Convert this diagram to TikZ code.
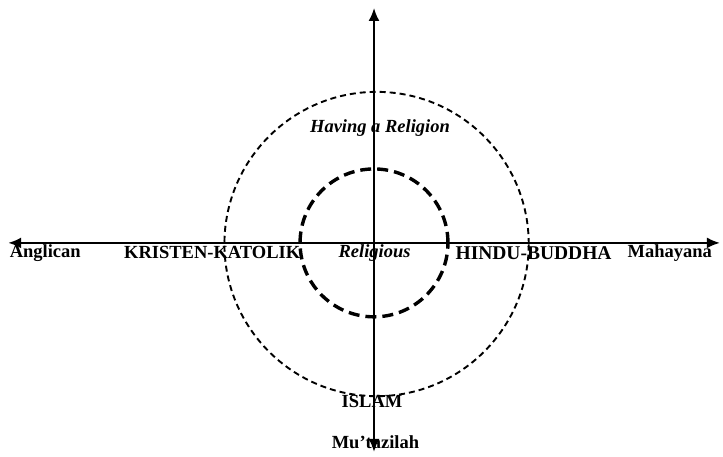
\documentclass[tikz,border=0pt]{standalone}
\usepackage{fontspec}
\setmainfont{Liberation Serif}
\usetikzlibrary{arrows, arrows.meta, positioning, calc}

\begin{document}
\begin{tikzpicture}[
    axis/.style={line width=2pt, -{Latex[length=13pt, width=11pt]}},
    label/.style={font=\fontsize{18.5}{20}\selectfont\bfseries, inner sep=0pt},
    ilabel/.style={font=\fontsize{18.5}{20}\selectfont\bfseries\itshape, inner sep=0pt}
  ]
    \useasboundingbox (-13.15,-7.52) rectangle (12.27,8.54);

    % Axes
    \coordinate (west) at (-12.86,0);
    \coordinate (east) at (12.16,0);
    \coordinate (north) at (0,8.26);
    \coordinate (south) at (0,-7.35);
    \draw[axis] (0,0) -- (west);
    \draw[axis] (0,0) -- (east);
    \draw[axis] (0,0) -- (north);
    \draw[axis] (0,0) -- (south);

    % Circles
    \node[circle, draw, line width=1.9pt, dash pattern=on 6pt off 4pt, minimum size=10.7cm, inner sep=0pt] (outer) at (0.09,-0.04) {};
    \node[circle, draw, line width=3.4pt, dash pattern=on 11pt off 6pt, minimum size=5.2cm, inner sep=0pt] (inner) at (0,0) {};

    % Labels
    \node[label] (anglican) at (-11.56,-0.35) {Anglican};
    \node[label] (katolik) at (-5.69,-0.35) {KRISTEN-KATOLIK};
    \node[ilabel] (religious) at (0.02,-0.35) {Religious};
    \node[label, font=\fontsize{19.5}{21}\selectfont\bfseries] (hindu) at (5.61,-0.35) {HINDU-BUDDHA};
    \node[label] (mahayana) at (10.4,-0.35) {Mahayana};
    \node[ilabel] (having) at (0.21,4.04) {Having a Religion};
    \node[label] (islam) at (-0.07,-5.59) {ISLAM};
    \node[label] (mutazilah) at (0.05,-7.0) {Mu’tazilah};

\end{tikzpicture}
\end{document}
